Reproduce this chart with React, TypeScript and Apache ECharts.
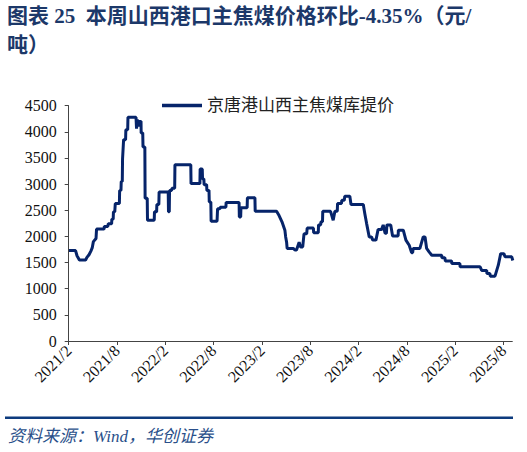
import React, { useEffect, useRef } from "react";
import * as echarts from "echarts";

const titleLine1 = "图表 25  本周山西港口主焦煤价格环比-4.35%（元/";
const titleLine2 = "吨）";
const sourceText = "资料来源：Wind，华创证券";
const seriesName = "京唐港山西主焦煤库提价";

const dates = [
  "2021-02-02", "2021-02-27", "2021-03-02", "2021-03-11", "2021-04-04", "2021-04-09", "2021-04-17", "2021-04-24",
  "2021-04-29", "2021-05-03", "2021-05-13", "2021-05-15", "2021-06-13", "2021-06-14", "2021-06-27", "2021-06-29",
  "2021-07-11", "2021-07-12", "2021-07-17", "2021-07-18", "2021-07-23", "2021-07-25", "2021-08-10", "2021-08-11",
  "2021-08-16", "2021-08-17", "2021-08-21", "2021-08-22", "2021-08-24", "2021-08-26", "2021-09-03", "2021-09-04",
  "2021-09-11", "2021-09-12", "2021-10-12", "2021-10-14", "2021-10-17", "2021-10-21", "2021-10-22", "2021-10-23",
  "2021-10-31", "2021-11-01", "2021-11-07", "2021-11-08", "2021-11-15", "2021-11-16", "2021-11-24", "2021-11-25",
  "2021-12-20", "2021-12-21", "2021-12-29", "2021-12-30", "2022-01-07", "2022-01-08", "2022-02-12", "2022-02-13",
  "2022-02-16", "2022-02-17", "2022-02-25", "2022-02-26", "2022-03-06", "2022-03-07", "2022-05-06", "2022-05-07",
  "2022-06-10", "2022-06-11", "2022-06-19", "2022-06-20", "2022-06-25", "2022-06-26", "2022-07-05", "2022-07-06",
  "2022-07-14", "2022-07-15", "2022-07-21", "2022-07-22", "2022-08-14", "2022-08-16", "2022-08-25", "2022-08-26",
  "2022-09-17", "2022-09-18", "2022-11-06", "2022-11-07", "2022-11-12", "2022-11-13", "2022-12-06", "2022-12-07",
  "2023-01-05", "2023-01-06", "2023-03-26", "2023-04-05", "2023-04-16", "2023-04-27", "2023-04-30", "2023-05-03",
  "2023-05-05", "2023-05-28", "2023-06-04", "2023-06-10", "2023-06-20", "2023-06-25", "2023-07-03", "2023-07-08",
  "2023-07-18", "2023-07-20", "2023-08-13", "2023-08-14", "2023-09-01", "2023-09-02", "2023-09-10", "2023-09-11",
  "2023-09-17", "2023-09-18", "2023-10-17", "2023-10-27", "2023-11-03", "2023-11-12", "2023-11-13", "2023-11-28",
  "2023-11-29", "2023-12-08", "2023-12-10", "2023-12-29", "2024-01-03", "2024-02-19", "2024-02-25", "2024-03-01",
  "2024-03-11", "2024-03-20", "2024-03-24", "2024-04-06", "2024-04-14", "2024-04-27", "2024-05-03", "2024-05-10",
  "2024-05-15", "2024-05-17", "2024-06-01", "2024-06-08", "2024-06-29", "2024-06-30", "2024-07-18", "2024-07-28",
  "2024-08-10", "2024-08-19", "2024-08-23", "2024-08-25", "2024-09-20", "2024-10-02", "2024-10-09", "2024-10-15",
  "2024-10-25", "2024-10-27", "2024-11-04", "2024-12-11", "2024-12-12", "2024-12-23", "2024-12-25", "2025-01-18",
  "2025-01-19", "2025-02-19", "2025-02-20", "2025-05-04", "2025-05-10", "2025-05-29", "2025-05-30", "2025-06-11",
  "2025-06-12", "2025-06-30", "2025-07-06", "2025-07-12", "2025-07-21", "2025-08-03", "2025-08-07", "2025-09-02",
  "2025-09-06",
];

const prices = [
  1730, 1730, 1630, 1550, 1550, 1600, 1650, 1720,
  1780, 1900, 1960, 2140, 2140, 2190, 2190, 2240,
  2240, 2330, 2330, 2470, 2470, 2630, 2630, 2880,
  2880, 3050, 3050, 3480, 3480, 3850, 3850, 4040,
  4040, 4280, 4280, 4060, 4210, 4210, 4100, 4200,
  4200, 3980, 3980, 3710, 3710, 2730, 2730, 2310,
  2310, 2470, 2470, 2610, 2610, 2850, 2850, 2470,
  2470, 2880, 2880, 2920, 2920, 3370, 3370, 3010,
  3010, 3290, 3290, 3100, 3100, 2990, 2990, 2880,
  2880, 2660, 2660, 2290, 2290, 2530, 2530, 2560,
  2560, 2650, 2650, 2370, 2370, 2550, 2550, 2740,
  2740, 2480, 2480, 2400, 2280, 2120, 1990, 1890,
  1770, 1770, 1740, 1740, 1890, 1800, 1800, 2050,
  2050, 2160, 2160, 2070, 2070, 2220, 2220, 2280,
  2280, 2480, 2480, 2310, 2480, 2480, 2630, 2630,
  2690, 2690, 2770, 2770, 2610, 2610, 2430, 2250,
  1990, 1990, 1930, 1930, 2130, 2130, 2220, 2060,
  2060, 2220, 2220, 2010, 2010, 2120, 2120, 1930,
  1830, 1690, 1690, 1770, 1770, 1990, 1990, 1770,
  1700, 1700, 1640, 1640, 1590, 1590, 1530, 1530,
  1480, 1480, 1420, 1420, 1350, 1350, 1290, 1290,
  1240, 1240, 1350, 1450, 1670, 1670, 1610, 1610,
  1540,
];

const xTickMonths = [0, 6, 12, 18, 24, 30, 36, 42, 48, 54];
const yMin = 0;
const yMax = 4500;
const yStep = 500;

function monthIndex(d: string): number {
  const [y, m, day] = d.split("-").map(Number);
  return (y - 2021) * 12 + (m - 2) + (day - 1) / 30.5;
}

function monthLabel(v: number): string {
  const k = Math.round(v) + 1;
  const year = 2021 + Math.floor(k / 12);
  const month = (k % 12) + 1;
  return `${year}/${month}`;
}

const serifFont = "'Liberation Serif', 'Times New Roman', 'Noto Sans CJK SC', serif";
const cjkFont = "'Liberation Serif', 'Noto Sans CJK SC', serif";

export default function App() {
  const ref = useRef<HTMLDivElement>(null);

  useEffect(() => {
    if (!ref.current) return;
    const chart = echarts.init(ref.current, undefined, { renderer: "svg" });
    const points = dates.map((d, i) => [monthIndex(d), prices[i]]);

    chart.setOption({
      animation: false,
      backgroundColor: "#ffffff",
      grid: { left: 68.7, right: 14.7, top: 105.7, bottom: 111, containLabel: false },
      legend: {
        show: true,
        left: 157,
        top: 92,
        icon: "rect",
        itemWidth: 40,
        itemHeight: 3.5,
        itemGap: 8,
        textStyle: { fontSize: 17, color: "#222", fontFamily: cjkFont },
        data: [seriesName],
      },
      xAxis: {
        type: "value",
        min: 0,
        max: 55.1,
        splitLine: { show: false },
        axisLine: { show: true, lineStyle: { color: "#444", width: 1 } },
        axisTick: { show: true, length: 4, lineStyle: { color: "#444" }, customValues: xTickMonths },
        axisLabel: {
          rotate: 45,
          margin: 7,
          fontSize: 16,
          color: "#111",
          fontFamily: serifFont,
          customValues: xTickMonths,
          formatter: (v: number) => monthLabel(v),
        },
      },
      yAxis: {
        type: "value",
        min: yMin,
        max: yMax,
        interval: yStep,
        splitLine: { show: false },
        axisLine: { show: true, lineStyle: { color: "#444", width: 1 } },
        axisTick: { show: true, length: 4, lineStyle: { color: "#444" } },
        axisLabel: {
          margin: 12,
          fontSize: 16,
          color: "#111",
          fontFamily: serifFont,
          formatter: (v: number) => String(v),
        },
      },
      series: [
        {
          name: seriesName,
          type: "line",
          data: points,
          symbol: "none",
          lineStyle: { color: "#06246a", width: 3 },
          itemStyle: { color: "#06246a" },
        },
      ],
      graphic: [
        {
          type: "text",
          left: 7,
          top: 5,
          style: {
            text: titleLine1,
            font: `bold 21px ${cjkFont}`,
            fill: "#1c3869",
          },
        },
        {
          type: "text",
          left: 7,
          top: 34,
          style: {
            text: titleLine2,
            font: `bold 21px ${cjkFont}`,
            fill: "#1c3869",
          },
        },
        {
          type: "rect",
          shape: { x: 5, y: 416.5, width: 508, height: 2.5 },
          style: { fill: "#0d3b7e" },
        },
        {
          type: "text",
          left: 8,
          top: 428,
          style: {
            text: sourceText,
            font: `italic 17px ${cjkFont}`,
            fill: "#2a4f8a",
          },
        },
      ],
    });

    return () => chart.dispose();
  }, []);

  return (
    <div
      ref={ref}
      style={{ position: "fixed", left: 0, top: 0, width: 527, height: 452, background: "#fff" }}
    />
  );
}
